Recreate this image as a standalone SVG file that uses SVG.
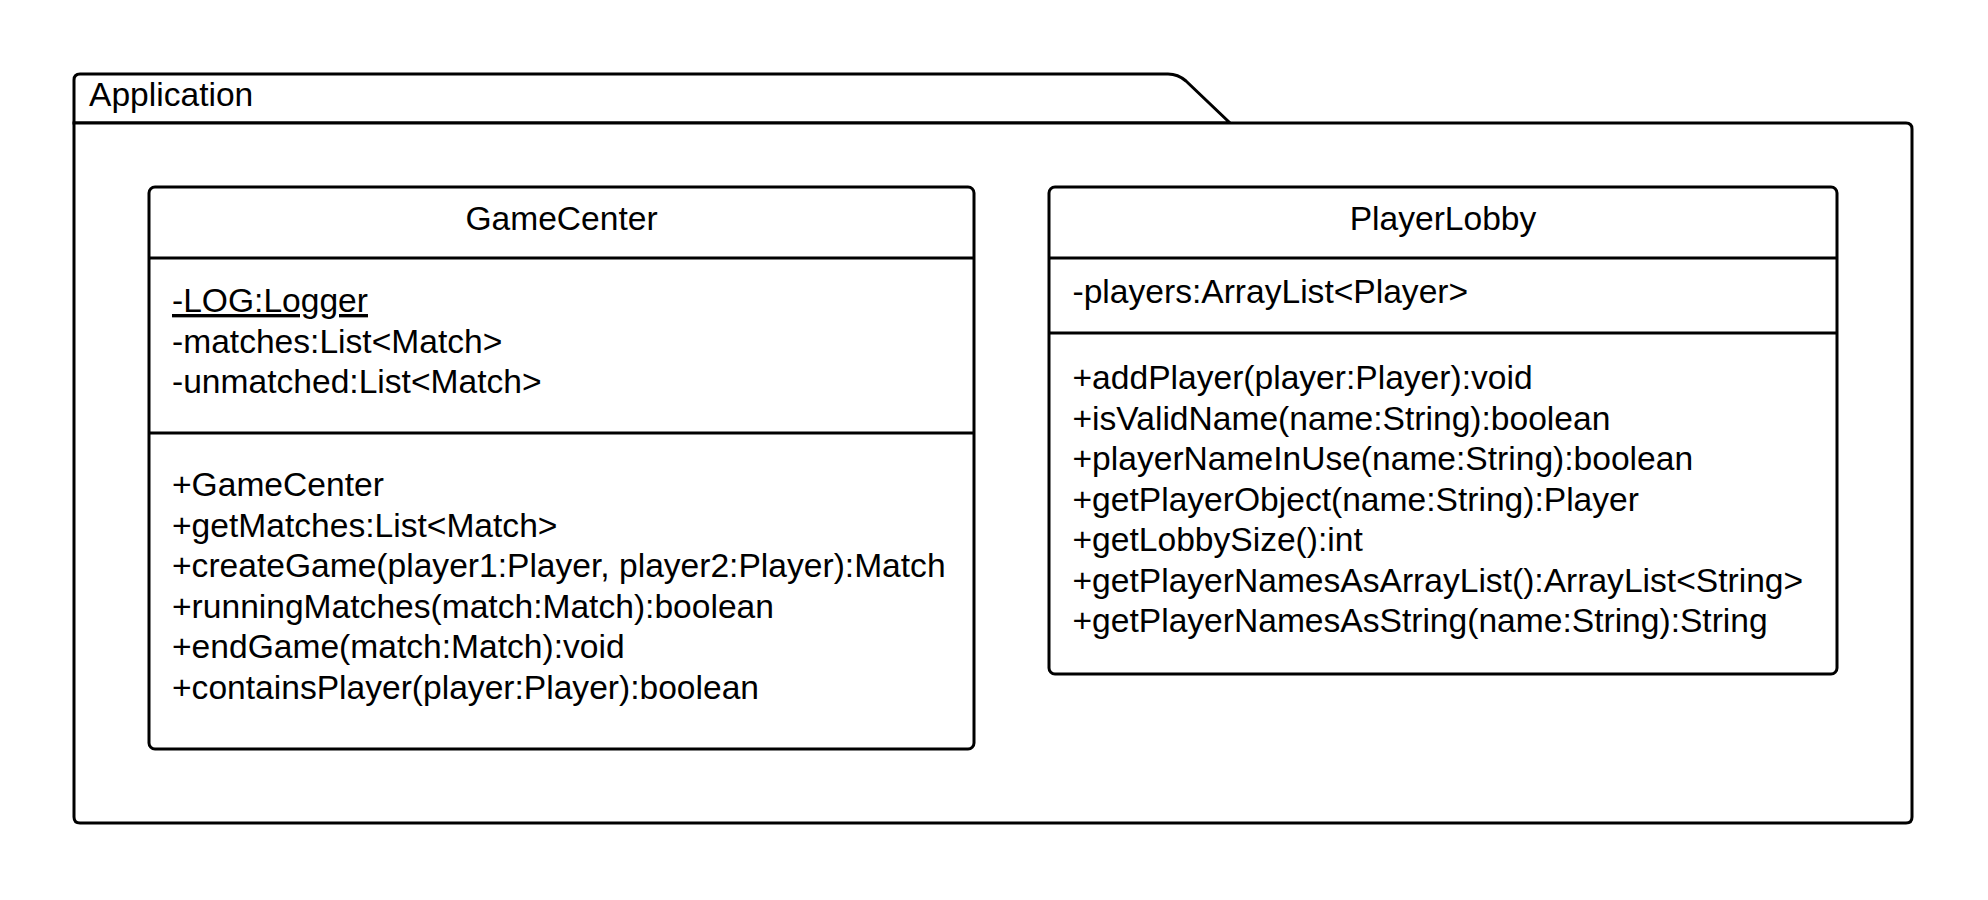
<svg xmlns="http://www.w3.org/2000/svg" width="1988" height="900" viewBox="0 0 1988 900">
<style>
.s{fill:none;stroke:#000;stroke-width:3;stroke-linejoin:round}
.bg{fill:#fff;stroke:#000;stroke-width:3}
text{font-family:"Liberation Sans",Arial,sans-serif;font-size:33.6px;fill:#000}
.c{text-anchor:middle}
</style>
<rect width="1988" height="900" fill="#fff"/>
<g id="package-Application">
<path class="bg" d="M74,123 V80 Q74,74 80,74 H1168 Q1178,74 1186,81 L1230,123 Z"/>
<path class="bg" d="M74,123 H1906 Q1912,123 1912,129 V817 Q1912,823 1906,823 H80 Q74,823 74,817 Z"/>
<text x="89" y="106">Application</text>
</g>
<g id="class-GameCenter">
<rect class="bg" x="149" y="187" width="825" height="562" rx="6"/>
<line class="s" x1="149" y1="258" x2="974" y2="258"/>
<line class="s" x1="149" y1="433" x2="974" y2="433"/>
<text class="c" x="561.5" y="229.5">GameCenter</text>
<text x="172" y="312" text-decoration="underline">-LOG:Logger</text>
<text x="172" y="352.5">-matches:List&lt;Match&gt;</text>
<text x="172" y="393">-unmatched:List&lt;Match&gt;</text>
<text x="172" y="496">+GameCenter</text>
<text x="172" y="536.5">+getMatches:List&lt;Match&gt;</text>
<text x="172" y="577">+createGame(player1:Player, player2:Player):Match</text>
<text x="172" y="617.5">+runningMatches(match:Match):boolean</text>
<text x="172" y="658">+endGame(match:Match):void</text>
<text x="172" y="698.5">+containsPlayer(player:Player):boolean</text>
</g>
<g id="class-PlayerLobby">
<rect class="bg" x="1049" y="187" width="788" height="487" rx="6"/>
<line class="s" x1="1049" y1="258" x2="1837" y2="258"/>
<line class="s" x1="1049" y1="333" x2="1837" y2="333"/>
<text class="c" x="1443" y="229.5">PlayerLobby</text>
<text x="1072.5" y="303">-players:ArrayList&lt;Player&gt;</text>
<text x="1072.5" y="389">+addPlayer(player:Player):void</text>
<text x="1072.5" y="429.5">+isValidName(name:String):boolean</text>
<text x="1072.5" y="470">+playerNameInUse(name:String):boolean</text>
<text x="1072.5" y="510.5">+getPlayerObject(name:String):Player</text>
<text x="1072.5" y="551">+getLobbySize():int</text>
<text x="1072.5" y="591.5">+getPlayerNamesAsArrayList():ArrayList&lt;String&gt;</text>
<text x="1072.5" y="632">+getPlayerNamesAsString(name:String):String</text>
</g>
<g id="connectors"></g>
</svg>
